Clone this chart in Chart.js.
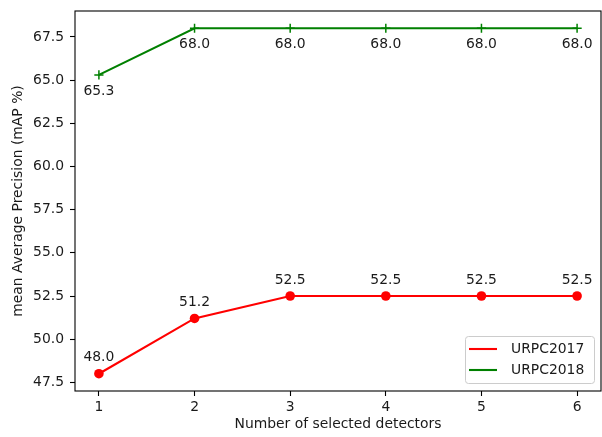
<!DOCTYPE html>
<html>
<head>
<meta charset="utf-8">
<script src="https://cdn.jsdelivr.net/npm/chart.js@4/dist/chart.umd.min.js"></script>
<style>
  html, body { margin: 0; padding: 0; background: #ffffff; }
  #wrap { width: 602px; height: 437px; }
</style>
</head>
<body>
<div id="wrap"><canvas id="c" width="602" height="437"></canvas></div>
<script>
// Number of selected detectors
const detectors = [1, 2, 3, 4, 5, 6];
// mAP (%) per dataset
const urpc2017 = [48.0, 51.2, 52.5, 52.5, 52.5, 52.5];
const urpc2018 = [65.3, 68.0, 68.0, 68.0, 68.0, 68.0];
// y-axis tick labels
const yTicks = [47.5, 50.0, 52.5, 55.0, 57.5, 60.0, 62.5, 65.0, 67.5];

const FONT = 'DejaVu Sans';
const FS = 13.9;
const TEXT = '#1a1a1a';

const toPoints = (vals) => detectors.map((d, i) => ({ x: d, y: vals[i] }));

// white page background
const background = {
  id: 'background',
  beforeDraw(chart) {
    const { ctx } = chart;
    ctx.save();
    ctx.fillStyle = '#ffffff';
    ctx.fillRect(0, 0, chart.width, chart.height);
    ctx.restore();
  }
};

// four-sided frame around the plot area
const frame = {
  id: 'frame',
  afterDraw(chart) {
    const { ctx, chartArea: a } = chart;
    ctx.save();
    ctx.strokeStyle = '#000000';
    ctx.lineWidth = 1.1;
    ctx.strokeRect(a.left, a.top, a.right - a.left, a.bottom - a.top);
    ctx.restore();
  }
};

// value labels next to each point
const valueLabels = {
  id: 'valueLabels',
  afterDatasetsDraw(chart) {
    const { ctx } = chart;
    ctx.save();
    ctx.font = `${FS}px "${FONT}"`;
    ctx.fillStyle = TEXT;
    ctx.textAlign = 'center';
    ctx.textBaseline = 'middle';
    chart.data.datasets.forEach((ds, di) => {
      const meta = chart.getDatasetMeta(di);
      const dy = ds.labelOffset;
      meta.data.forEach((pt, i) => {
        ctx.fillText(ds.data[i].y.toFixed(1), pt.x, pt.y + dy);
      });
    });
    ctx.restore();
  }
};

// legend box in the lower right corner of the plot area
const cornerLegend = {
  id: 'cornerLegend',
  afterDraw(chart) {
    const { ctx, chartArea: a } = chart;
    const w = 129, h = 47;
    const x0 = a.right - 7 - w, y0 = a.bottom - 8 - h;
    ctx.save();
    ctx.beginPath();
    if (ctx.roundRect) ctx.roundRect(x0 + 0.5, y0 + 0.5, w, h, 3);
    else ctx.rect(x0 + 0.5, y0 + 0.5, w, h);
    ctx.fillStyle = 'rgba(255,255,255,0.8)';
    ctx.fill();
    ctx.strokeStyle = '#cccccc';
    ctx.lineWidth = 1;
    ctx.stroke();
    ctx.font = `${FS}px "${FONT}"`;
    ctx.textBaseline = 'middle';
    ctx.textAlign = 'left';
    chart.data.datasets.forEach((ds, i) => {
      const y = y0 + 13 + i * 21;
      ctx.strokeStyle = ds.borderColor;
      ctx.lineWidth = 2.1;
      ctx.beginPath();
      ctx.moveTo(x0 + 4, y);
      ctx.lineTo(x0 + 32, y);
      ctx.stroke();
      ctx.fillStyle = TEXT;
      ctx.fillText(ds.label, x0 + 46, y);
    });
    ctx.restore();
  }
};

new Chart(document.getElementById('c'), {
  type: 'line',
  data: {
    datasets: [
      {
        label: 'URPC2017',
        data: toPoints(urpc2017),
        borderColor: '#ff0000',
        backgroundColor: '#ff0000',
        borderWidth: 2.1,
        pointStyle: 'circle',
        pointRadius: 4.8,
        pointHoverRadius: 4.8,
        pointBorderWidth: 0,
        pointBackgroundColor: '#ff0000',
        tension: 0,
        labelOffset: -16
      },
      {
        label: 'URPC2018',
        data: toPoints(urpc2018),
        borderColor: '#008000',
        backgroundColor: '#008000',
        borderWidth: 2.1,
        pointStyle: 'cross',
        pointRadius: 4.6,
        pointHoverRadius: 4.6,
        pointBorderWidth: 1.5,
        pointBorderColor: '#008000',
        tension: 0,
        labelOffset: 16
      }
    ]
  },
  options: {
    responsive: false,
    animation: false,
    devicePixelRatio: 1,
    events: [],
    layout: { autoPadding: false, padding: { top: 11, right: 1, left: 0, bottom: 0 } },
    plugins: {
      legend: { display: false },
      tooltip: { enabled: false }
    },
    scales: {
      x: {
        type: 'linear',
        min: 0.75,
        max: 6.25,
        afterBuildTicks(scale) { scale.ticks = detectors.map(v => ({ value: v })); },
        afterFit(scale) {
          scale.height = 46;
          scale.paddingLeft = 0;
          scale.paddingRight = 0;
        },
        ticks: {
          callback: (v) => String(v),
          color: TEXT,
          font: { family: FONT, size: FS },
          padding: 3,
          maxRotation: 0,
          autoSkip: false
        },
        grid: { display: true, drawOnChartArea: false, drawTicks: true, tickLength: 5, tickWidth: 1.1, tickColor: '#000000' },
        border: { display: false },
        title: {
          display: true,
          text: 'Number of selected detectors',
          color: TEXT,
          font: { family: FONT, size: FS },
          padding: { top: 0, bottom: 4 }
        }
      },
      y: {
        type: 'linear',
        min: 47,
        max: 69,
        afterBuildTicks(scale) { scale.ticks = yTicks.map(v => ({ value: v })); },
        afterFit(scale) {
          scale.width = 75;
          scale.paddingTop = 0;
          scale.paddingBottom = 0;
        },
        ticks: {
          callback: (v) => Number(v).toFixed(1),
          color: TEXT,
          font: { family: FONT, size: FS },
          padding: 6,
          autoSkip: false
        },
        grid: { display: true, drawOnChartArea: false, drawTicks: true, tickLength: 5, tickWidth: 1.1, tickColor: '#000000' },
        border: { display: false },
        title: {
          display: true,
          text: 'mean Average Precision (mAP %)',
          color: TEXT,
          font: { family: FONT, size: FS },
          padding: { top: 10, bottom: 0 }
        }
      }
    }
  },
  plugins: [background, frame, valueLabels, cornerLegend]
});
</script>
</body>
</html>
